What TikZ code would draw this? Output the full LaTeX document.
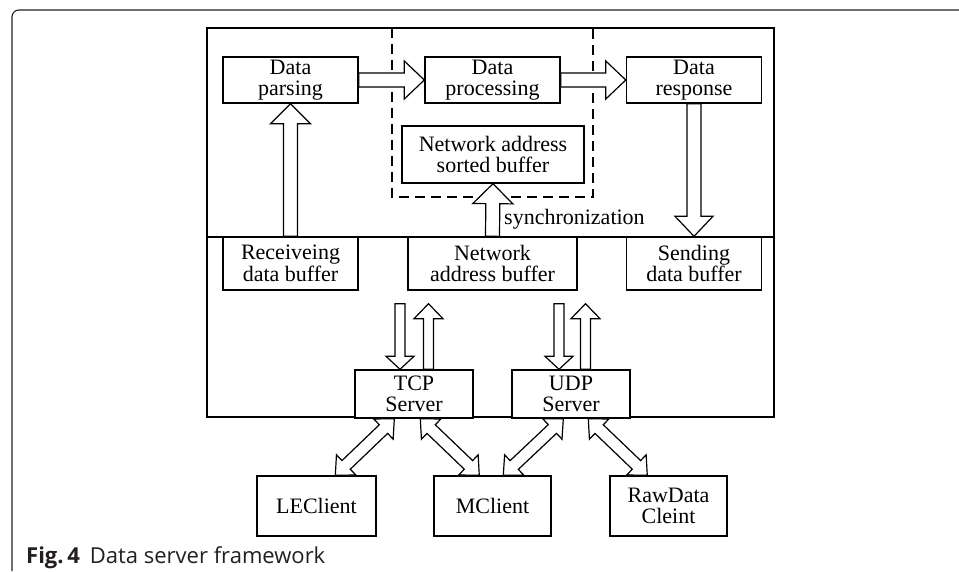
\documentclass[tikz,border=0pt]{standalone}
\usepackage{fontspec}
\setmainfont{Liberation Serif}
\newfontfamily\capfont{Open Sans}
\usetikzlibrary{calc}
\definecolor{capgray}{HTML}{231F20}
% hollow block arrow: #1 start, #2 end, #3 shaft half width, #4 head half width, #5 head length, #6 double (1) or single (0)
\newcommand\blockarr[6]{%
  \path let \p1=(#1), \p2=(#2) in \pgfextra{%
    \pgfmathsetmacro\BAtmpa{atan2(\y2-\y1,\x2-\x1)}%
    \pgfmathsetmacro\BAtmpl{veclen(\x2-\x1,\y2-\y1)}%
    \xdef\BAang{\BAtmpa}\xdef\BAlen{\BAtmpl}%
    \xdef\BAx{\x1}\xdef\BAy{\y1}};
  \pgfmathsetmacro\BAb{\BAlen-#5}%
  \begin{scope}[shift={(\BAx,\BAy)}, rotate=\BAang]
  \ifnum#6=1
    \draw[blockarrow] (#5pt,-#3pt) -- (\BAb pt,-#3pt) -- (\BAb pt,-#4pt) -- (\BAlen pt,0pt) -- (\BAb pt,#4pt) -- (\BAb pt,#3pt) -- (#5pt,#3pt) -- (#5pt,#4pt) -- (0pt,0pt) -- (#5pt,-#4pt) -- cycle;
  \else
    \draw[blockarrow] (0pt,-#3pt) -- (\BAb pt,-#3pt) -- (\BAb pt,-#4pt) -- (\BAlen pt,0pt) -- (\BAb pt,#4pt) -- (\BAb pt,#3pt) -- (0pt,#3pt) -- cycle;
  \fi
  \end{scope}}
\begin{document}
\begin{tikzpicture}[x=1pt,y=-1pt,
  box/.style={draw, line width=1.4pt, inner sep=0pt, align=center,
    font=\fontsize{22}{21.5}\selectfont},
  blockarrow/.style={draw, fill=white, line width=1.2pt, line join=miter},
  lbl/.style={inner sep=0pt, font=\fontsize{22}{22}\selectfont}]
\useasboundingbox (0,0) rectangle (959,571);
% page frame
\draw[capgray, line width=1.1pt, rounded corners=7pt] (12,571) -- (12,10) -- (959,10);
% caption
\node[anchor=base west, inner sep=0pt, text=capgray, font=\capfont\fontsize{22}{24}\selectfont] (cap) at (26,563) {\textbf{Fig.\,4}\hspace{10pt}Data server framework};
% main frame
\draw[line width=1.4pt] (207,28) rectangle (774,417);
\draw[line width=1.4pt] (207,237) -- (774,237);
% dashed region
\draw[line width=1.3pt, dash pattern=on 10pt off 6pt] (392,28) rectangle (593,197);
% boxes
\node[box, minimum width=135pt, minimum height=46pt] (parse) at (290.5,80) {Data\\parsing};
\node[box, minimum width=135pt, minimum height=46pt] (proc) at (492.5,80) {Data\\processing};
\node[box, minimum width=135pt, minimum height=46pt] (resp) at (694,80) {Data\\response};
\node[box, minimum width=182pt, minimum height=57pt] (sorted) at (493,154.5) {Network address\\sorted buffer};
\node[box, minimum width=135pt, minimum height=53pt] (recv) at (290.5,263.5) {Receiveing\\data buffer};
\node[box, minimum width=169pt, minimum height=53pt] (nab) at (492.5,263.5) {Network\\address buffer};
\node[box, minimum width=135pt, minimum height=53pt] (send) at (694,263.5) {Sending\\data buffer};
\node[box, fill=white, minimum width=118pt, minimum height=48pt] (tcp) at (414,394) {TCP\\Server};
\node[box, fill=white, minimum width=118pt, minimum height=48pt] (udp) at (571,394) {UDP\\Server};
\node[box, minimum width=119pt, minimum height=60pt] (le) at (316.5,506) {LEClient};
\node[box, minimum width=117pt, minimum height=60pt] (mc) at (492.5,506) {MClient};
\node[box, minimum width=117pt, minimum height=60pt] (raw) at (668.5,506) {RawData\\Cleint};
% block arrows
\blockarr{parse.east}{proc.west}{7}{19}{20}{0}
\blockarr{proc.east}{resp.west}{7}{19}{20}{0}
\blockarr{recv.north}{parse.south}{7}{20}{20}{0}
\blockarr{nab.north}{sorted.south}{7}{20}{20}{0}
\blockarr{resp.south}{send.north}{7}{19}{20}{0}
\blockarr{$(tcp.north |- nab.south)+(-14,13)$}{$(tcp.north)+(-14,0)$}{5}{14}{13}{0}
\blockarr{$(tcp.north)+(14.5,0)$}{$(tcp.north |- nab.south)+(14.5,13)$}{5}{14.5}{15}{0}
\blockarr{$(udp.north |- nab.south)+(-12,13)$}{$(udp.north)+(-12,0)$}{5}{14}{13}{0}
\blockarr{$(udp.north)+(14.5,0)$}{$(udp.north |- nab.south)+(14.5,13)$}{5}{14.5}{15}{0}
\blockarr{$(tcp.south west)+(40,0)$}{$(le.north west)+(79,0)$}{6}{14}{15}{1}
\blockarr{$(tcp.south west)+(66,0)$}{$(mc.north west)+(46,0)$}{6}{14}{15}{1}
\blockarr{$(udp.south west)+(52,0)$}{$(mc.north west)+(70,0)$}{6}{14}{15}{1}
\blockarr{$(udp.south west)+(77,0)$}{$(raw.north west)+(38,0)$}{6}{14}{15}{1}
% label
\node[lbl, anchor=west] (sync) at ($(nab.north)+(11.5,-17)$) {synchronization};
\end{tikzpicture}
\end{document}
